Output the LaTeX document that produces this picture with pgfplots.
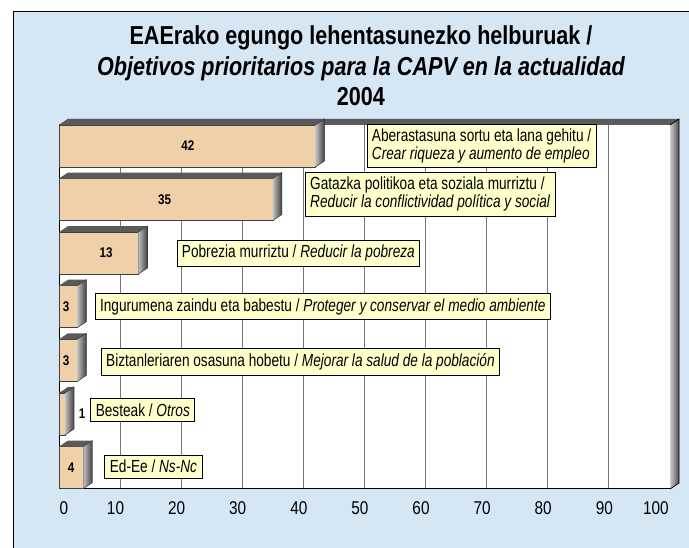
\documentclass[border=0pt]{standalone}
\usepackage{pgfplots}
\pgfplotsset{compat=1.18}
\usepackage{pgfplotstable}
\usepackage{fontspec}
\setmainfont{Liberation Sans}[FakeStretch=0.83]
\newfontfamily\lblfont{Liberation Sans}[FakeStretch=0.78]
\definecolor{bgblue}{RGB}{213,230,245}
\definecolor{barface}{RGB}{240,208,168}
\definecolor{lblfill}{RGB}{255,255,204}
\definecolor{topc}{RGB}{90,90,90}
\definecolor{gridc}{RGB}{120,120,120}

\pgfplotstableread{
y v lx
6 42 21.1
5 35 17.3
4 13 7.7
3 3 1.15
2 3 1.15
1 1 3.8
0 4 2.0
}\bardata

\begin{document}
\begin{tikzpicture}[x=1pt,y=1pt]
\useasboundingbox (0,0) rectangle (689,548);
\fill[white] (0,0) rectangle (689,548);
\filldraw[fill=bgblue, draw=black, line width=1pt] (13.5,-10) rectangle (720,536);
\node[anchor=base, font=\fontsize{26}{30}\selectfont\bfseries] at (361,503) {EAErako egungo lehentasunezko helburuak /};
\node[anchor=base, font=\fontsize{26}{30}\selectfont\bfseries\itshape] at (361,472.5) {Objetivos prioritarios para la CAPV en la actualidad};
\node[anchor=base, font=\fontsize{26}{30}\selectfont\bfseries] at (361,442) {2004};
\begin{axis}[
  at={(59pt,59pt)}, anchor=south west, scale only axis,
  width=611pt, height=364pt,
  xmin=0, xmax=100, ymin=-0.4, ymax=6.39,
  xtick={0,10,20,30,40,50,60,70,80,90,100}, xticklabels={},
  ytick=\empty,
  extra x ticks={0.8,9.25,19.25,29.25,39.25,49.25,59.25,69.25,79.25,89.25,97.7},
  extra x tick labels={0,10,20,30,40,50,60,70,80,90,100},
  extra x tick style={grid=none},
  xmajorgrids, grid style={gridc, line width=1pt},
  major tick length=0pt,
  axis line style={black, line width=1pt},
  axis background/.style={fill=white},
  clip=false,
  /pgf/number format/assume math mode=true,
  xticklabel style={font=\fontsize{18.5}{20}\selectfont, inner sep=0pt, yshift=-12pt},
]
\fill[topc] (rel axis cs:0,1) -- (rel axis cs:1,1) -- ([shift={(9pt,6pt)}]rel axis cs:1,1) -- ([shift={(9pt,6pt)}]rel axis cs:0,1) -- cycle;
\shade[left color=black!20, right color=black!70] (rel axis cs:1,0) -- ([shift={(9pt,6pt)}]rel axis cs:1,0) -- ([shift={(9pt,6pt)}]rel axis cs:1,1) -- (rel axis cs:1,1) -- cycle;
\draw[black, line width=0.8pt] (rel axis cs:1,0) -- ([shift={(9pt,6pt)}]rel axis cs:1,0) -- ([shift={(9pt,6pt)}]rel axis cs:1,1) -- (rel axis cs:1,1);

\addplot[xbar, bar width=42pt, fill=barface, draw=black!75, line width=0.6pt] table[x=v, y=y]{\bardata};

\pgfplotsinvokeforeach{0,...,6}{%
  \pgfplotstablegetelem{#1}{v}\of\bardata \let\vv\pgfplotsretval
  \pgfplotstablegetelem{#1}{y}\of\bardata \let\yy\pgfplotsretval
  \edef\temp{%
    \noexpand\fill[topc] ([yshift=21pt]axis cs:0,\yy) -- ([yshift=21pt]axis cs:\vv,\yy) -- ([shift={(9pt,27pt)}]axis cs:\vv,\yy) -- ([shift={(9pt,27pt)}]axis cs:0,\yy) -- cycle;
    \noexpand\shade[left color=black!25, right color=black!75] ([yshift=-21pt]axis cs:\vv,\yy) -- ([yshift=21pt]axis cs:\vv,\yy) -- ([shift={(9pt,27pt)}]axis cs:\vv,\yy) -- ([shift={(9pt,-15pt)}]axis cs:\vv,\yy) -- cycle;
    \noexpand\draw[black!80, line width=0.5pt] ([yshift=-21pt]axis cs:\vv,\yy) -- ([shift={(9pt,-15pt)}]axis cs:\vv,\yy) -- ([shift={(9pt,27pt)}]axis cs:\vv,\yy) -- ([yshift=21pt]axis cs:\vv,\yy);
  }\temp
}

\addplot[draw=none, mark=none, nodes near coords, point meta=explicit symbolic,
  every node near coord/.append style={anchor=center, inner sep=0pt, font=\fontsize{14}{16}\selectfont\bfseries}] table[x=lx, y=y, meta=v]{\bardata};

\tikzset{lbl/.style={draw=black, line width=0.8pt, fill=lblfill, inner xsep=5pt, inner ysep=5pt, outer sep=0pt, align=left, anchor=west, font=\fontsize{17.5}{17.5}\selectfont\lblfont}}
\node[lbl] at (axis cs:50.4,6) {Aberastasuna sortu eta lana gehitu /\\\textit{Crear riqueza y aumento de empleo}};
\node[lbl] at (axis cs:40.3,5.1) {Gatazka politikoa eta soziala murriztu /\\\textit{Reducir la conflictividad política y social}};
\node[lbl] at (axis cs:19.3,4) {Pobrezia murriztu / \textit{Reducir la pobreza}};
\node[lbl] at (axis cs:5.9,3) {Ingurumena zaindu eta babestu / \textit{Proteger y conservar el medio ambiente}};
\node[lbl] at (axis cs:6.9,1.97) {Biztanleriaren osasuna hobetu / \textit{Mejorar la salud de la población}};
\node[lbl] at (axis cs:5.2,1.07) {Besteak / \textit{Otros}};
\node[lbl] at (axis cs:7.5,0.02) {Ed-Ee / \textit{Ns-Nc}};
\end{axis}
\end{tikzpicture}
\end{document}
